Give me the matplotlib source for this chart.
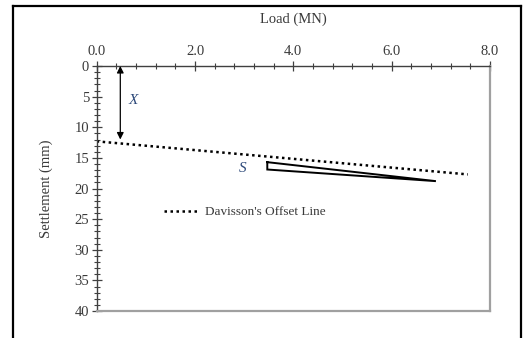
import matplotlib
matplotlib.use("Agg")
import matplotlib.pyplot as plt
from matplotlib.lines import Line2D
from matplotlib.ticker import MultipleLocator, FormatStrFormatter

# Data
load_curve = [3.47, 6.9, 3.47, 3.47]
settle_curve = [15.7, 18.8, 16.9, 15.7]
davisson_load = [0.0, 7.55]
davisson_settle = [12.3, 17.7]
arrow_load = 0.48
arrow_settle = [0.0, 12.0]
xticks = [0.0, 2.0, 4.0, 6.0, 8.0]
yticks = [0, 5, 10, 15, 20, 25, 30, 35, 40]

plt.rcParams['font.family'] = ['Liberation Serif', 'DejaVu Serif']
txt = '#3a3a3a'

fig = plt.figure(figsize=(5.24, 3.38), dpi=100)
ax = fig.add_axes([96.7/524, 1-311/338, (490-96.7)/524, (311-66)/338])

ax.plot(load_curve, settle_curve, color='black', lw=1.4, solid_joinstyle='miter')
ax.plot(davisson_load, davisson_settle, color='black', lw=1.8, linestyle=(0, (1.0, 1.4)),
        dash_capstyle='butt', label="Davisson's Offset Line")

ax.annotate('', xy=(arrow_load, arrow_settle[0]), xytext=(arrow_load, arrow_settle[1]),
            arrowprops=dict(arrowstyle='<|-|>', color='black', lw=0.9,
                            mutation_scale=10, shrinkA=0, shrinkB=0))
ax.text(0.75, 5.7, 'X', style='italic', fontsize=11, color='#2e4a7a', ha='center', va='center')
ax.text(2.97, 16.8, 'S', style='italic', fontsize=11, color='#2e4a7a', ha='center', va='center')

ax.set_xlim(0, 8)
ax.set_ylim(40, 0)
ax.set_xticks(xticks)
ax.set_yticks(yticks)
ax.xaxis.set_major_formatter(FormatStrFormatter('%.1f'))
ax.xaxis.set_minor_locator(MultipleLocator(0.4))
ax.yaxis.set_minor_locator(MultipleLocator(1))
ax.xaxis.tick_top()
ax.xaxis.set_label_position('top')
ax.tick_params(axis='x', which='both', top=True, bottom=False, direction='inout',
               colors='#404040', labelcolor=txt, labelsize=10.5)
ax.tick_params(axis='y', which='both', left=True, right=False, direction='inout',
               colors='#404040', labelcolor=txt, labelsize=10.5)
ax.tick_params(which='major', length=7, width=0.9, pad=2)
ax.tick_params(which='minor', length=4, width=0.8)
ax.set_xlabel('Load (MN)', fontsize=10.5, color=txt, labelpad=16)
ax.set_ylabel('Settlement (mm)', fontsize=10.5, color=txt, labelpad=15)

for s in ['top', 'left']:
    ax.spines[s].set_color('#404040')
    ax.spines[s].set_linewidth(1.0)
for s in ['bottom', 'right']:
    ax.spines[s].set_color('#a0a0a0')
    ax.spines[s].set_linewidth(1.6)

ax.legend(loc='center left', bbox_to_anchor=(0.172, 0.404), frameon=False,
          fontsize=9.5, handlelength=2.6, handletextpad=0.5, labelcolor=txt,
          borderaxespad=0, borderpad=0)

# outer frame
for xs, ys in [([13/524, 13/524], [0, 1-5.5/338]),
               ([13/524, 521/524], [1-5.5/338, 1-5.5/338]),
               ([521/524, 521/524], [0, 1-5.5/338])]:
    fig.add_artist(Line2D(xs, ys, color='black', lw=1.6, transform=fig.transFigure))

fig.savefig('out.png', dpi=100)
